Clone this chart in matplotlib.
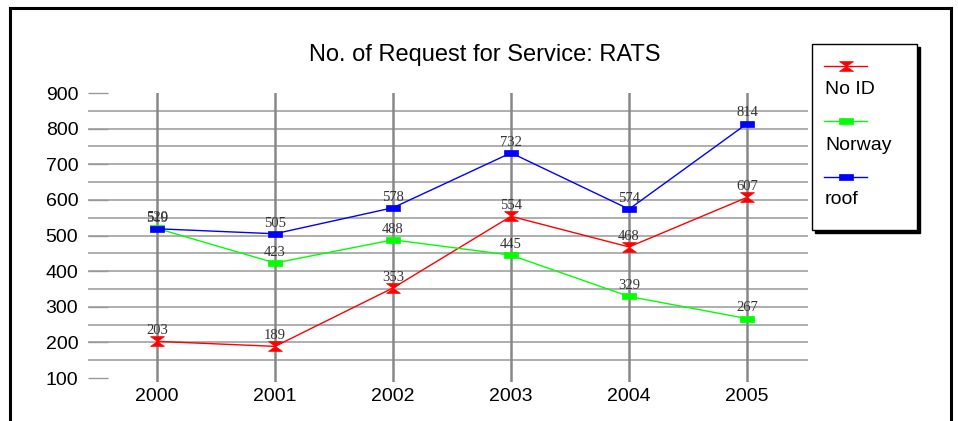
import matplotlib
matplotlib.use("Agg")
import matplotlib.pyplot as plt
from matplotlib.lines import Line2D
from matplotlib.patches import Rectangle
from matplotlib.path import Path

years = [2000, 2001, 2002, 2003, 2004, 2005]
no_id = [203, 189, 353, 554, 468, 607]
norway = [520, 423, 488, 445, 329, 267]
roof = [519, 505, 578, 732, 574, 814]

series_names = ["No ID", "Norway", "roof"]
series_vals = [no_id, norway, roof]
series_colors = ["#ff0000", "#00ff00", "#0000ff"]

W, H = 958, 421
SANS = ["Liberation Sans", "DejaVu Sans"]
SERIF = ["Liberation Serif", "DejaVu Serif"]

# hourglass and flat box markers
hourglass = Path([(-1, 0.7), (1, 0.7), (-1, -0.7), (1, -0.7), (-1, 0.7)],
                 [Path.MOVETO, Path.LINETO, Path.LINETO, Path.LINETO, Path.CLOSEPOLY])
box = Path([(-1, -0.5), (1, -0.5), (1, 0.5), (-1, 0.5), (-1, -0.5)],
           [Path.MOVETO, Path.LINETO, Path.LINETO, Path.LINETO, Path.CLOSEPOLY])
markers = [hourglass, box, box]


def fx(px):
    return px / W


def fy(py):
    return 1 - py / H


fig = plt.figure(figsize=(W / 100, H / 100), dpi=100)
fig.patch.set_facecolor("white")

ax = fig.add_axes([fx(88), fy(382), fx(808) - fx(88), fy(93) - fy(382)])
ax.set_xlim(1999.415, 2005.517)
ax.set_ylim(89, 900)
for s in ax.spines.values():
    s.set_visible(False)

# background grid
for v in range(150, 900, 50):
    ax.axhline(v, color="#a8a8a8", lw=1.3, zorder=1)
for yr in years:
    ax.axvline(yr, color="#888888", lw=1.8, zorder=2)

for name, vals, col, mk in zip(series_names, series_vals, series_colors, markers):
    ax.plot(years, vals, color=col, lw=1.0, marker=mk, markersize=10,
            markerfacecolor=col, markeredgecolor=col, markeredgewidth=0.5, zorder=3)
    for x, v in zip(years, vals):
        ax.annotate(str(v), (x, v), xytext=(0, 3), textcoords="offset points",
                    ha="center", va="bottom", fontsize=10.5, color="#333333",
                    family=SERIF, zorder=4)

ax.set_xticks(years)
ax.set_xticklabels([str(y) for y in years], family=SANS, fontsize=14)
ax.tick_params(axis="x", length=0, pad=4)
ax.set_yticks(range(100, 1000, 100))
ax.set_yticklabels([str(v) for v in range(100, 1000, 100)], family=SANS, fontsize=14)
ax.tick_params(axis="y", direction="in", length=14.4, width=1.0, color="#999999", pad=7)

fig.text(fx(485), fy(55), "No. of Request for Service: RATS", ha="center", va="center",
         fontsize=17, family=SANS)

# legend box with drop shadow
fig.add_artist(Rectangle((fx(815), fy(233)), fx(917) - fx(812), fy(44) - fy(230),
                         transform=fig.transFigure, facecolor="black", edgecolor="black", lw=1))
fig.add_artist(Rectangle((fx(812), fy(230)), fx(917) - fx(812), fy(44) - fy(230),
                         transform=fig.transFigure, facecolor="white", edgecolor="black", lw=1))
legend_rows = [(66, 89), (121, 145), (177, 200)]
for (ly, ty), name, col, mk in zip(legend_rows, series_names, series_colors, markers):
    fig.add_artist(Line2D([fx(824), fx(867)], [fy(ly), fy(ly)], color=col, lw=1.0,
                          transform=fig.transFigure))
    fig.add_artist(Line2D([fx(845.5)], [fy(ly)], marker=mk, markersize=10, color=col,
                          markeredgecolor=col, markeredgewidth=0.5, transform=fig.transFigure))
    fig.text(fx(825), fy(ty), name, ha="left", va="center", fontsize=14, family=SANS)

# outer frame (no bottom edge)
frame = dict(color="black", lw=2.2, transform=fig.transFigure, solid_capstyle="projecting")
fig.add_artist(Line2D([fx(10), fx(10)], [fy(421), fy(8)], **frame))
fig.add_artist(Line2D([fx(10), fx(951)], [fy(8), fy(8)], **frame))
fig.add_artist(Line2D([fx(951), fx(951)], [fy(8), fy(421)], **frame))

fig.savefig("out.png", dpi=100, facecolor="white")
